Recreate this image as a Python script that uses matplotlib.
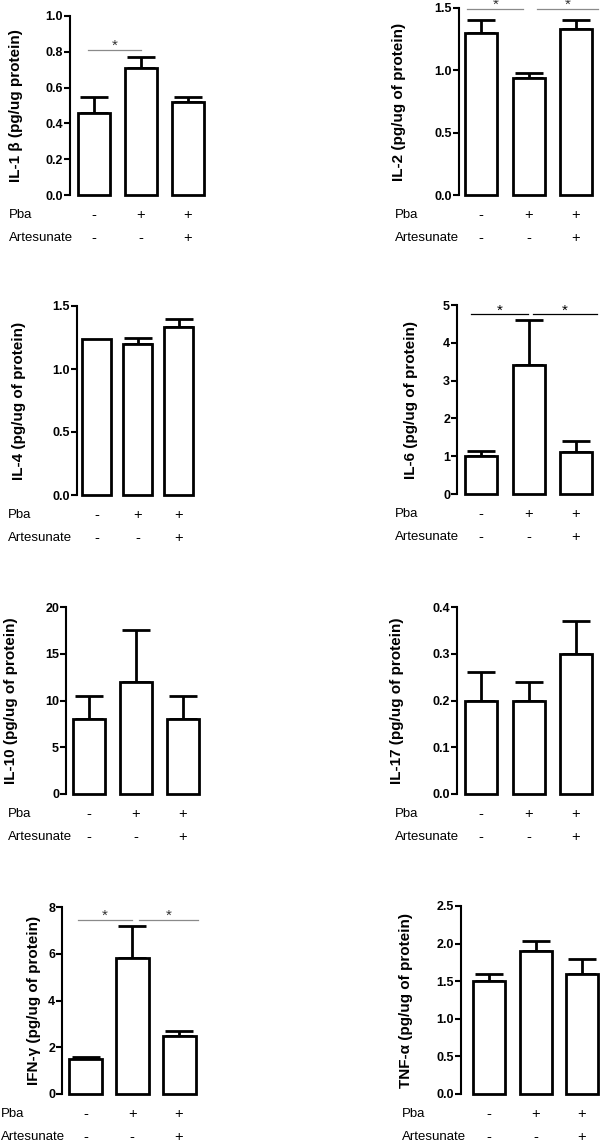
import matplotlib
matplotlib.use('Agg')
import matplotlib.pyplot as plt
from matplotlib.transforms import blended_transform_factory as btf
from matplotlib.ticker import MultipleLocator, FormatStrFormatter

plt.rcParams['font.family'] = ['Liberation Sans', 'DejaVu Sans']

# ---------------- data ----------------
pba_signs = ['-', '+', '+']
artesunate_signs = ['-', '-', '+']
row_names = ['Pba', 'Artesunate']

ylabels = ['IL-1 β (pg/ug protein)', 'IL-2 (pg/ug of protein)',
           'IL-4 (pg/ug of protein)', 'IL-6 (pg/ug of protein)',
           'IL-10 (pg/ug of protein)', 'IL-17 (pg/ug of protein)',
           'IFN-γ (pg/ug of protein)', 'TNF-α (pg/ug of protein)']

il1b_mean = [0.46, 0.71, 0.52];  il1b_sem = [0.09, 0.06, 0.03]
il2_mean = [1.30, 0.94, 1.33];   il2_sem = [0.10, 0.04, 0.07]
il4_mean = [1.24, 1.20, 1.33];   il4_sem = [0.0, 0.05, 0.07]
il6_mean = [1.0, 3.4, 1.1];      il6_sem = [0.15, 1.2, 0.3]
il10_mean = [8.0, 12.0, 8.0];    il10_sem = [2.5, 5.5, 2.5]
il17_mean = [0.20, 0.20, 0.30];  il17_sem = [0.06, 0.04, 0.07]
ifng_mean = [1.5, 5.8, 2.5];     ifng_sem = [0.07, 1.4, 0.2]
tnfa_mean = [1.5, 1.9, 1.6];     tnfa_sem = [0.10, 0.13, 0.20]

means = [il1b_mean, il2_mean, il4_mean, il6_mean, il10_mean, il17_mean, ifng_mean, tnfa_mean]
sems = [il1b_sem, il2_sem, il4_sem, il6_sem, il10_sem, il17_sem, ifng_sem, tnfa_sem]

y_max = [1.0, 1.5, 1.5, 5, 20, 0.4, 8, 2.5]
y_step = [0.2, 0.5, 0.5, 1, 5, 0.1, 2, 0.5]
y_decimals = [1, 1, 1, 0, 0, 1, 0, 1]

# significance brackets: (x start, x end, y level) in group units
sig_il1b = [(-0.13, 1.0, 0.81)]
sig_il2 = [(-0.29, 0.89, 1.49), (1.18, 2.46, 1.49)]
sig_il6 = [(-0.21, 0.99, 4.75), (1.09, 2.44, 4.75)]
sig_ifng = [(-0.16, 1.0, 7.45), (1.14, 2.4, 7.45)]
sig = [sig_il1b, sig_il2, [], sig_il6, [], [], sig_ifng, []]
sig_color = ['#8a8a8a', '#8a8a8a', 'k', 'k', 'k', 'k', '#8a8a8a', 'k']

# ---------------- layout (pixels) ----------------
W, H = 600, 1144
# spine_x, zero_y, top_y, first bar center, spacing, bar width, ylabel right edge, row label x
layout = [
    (70, 195, 16, 94, 47, 32, 23, 9),
    (459, 195, 8, 481, 47.5, 32, 406, 395),
    (77, 495, 306, 96.5, 41, 29, 26, 8),
    (457, 494, 305, 481, 47.5, 32, 418, 395),
    (66, 794, 607, 89, 47, 32, 18, 8),
    (457, 794, 607, 481, 47.5, 32, 404, 395),
    (62, 1094, 907, 85.5, 46.75, 33, 41, 1),
    (461, 1094, 906, 489, 46.5, 32, 413, 402),
]

fig = plt.figure(figsize=(W / 100, H / 100), dpi=100)

for i in range(8):
    spine, zero, top, c0, s, bw, lab_r, row_x = layout[i]
    right = c0 + 2.5 * s
    ax = fig.add_axes([spine / W, 1 - zero / H, (right - spine) / W, (zero - top) / H])
    x = [0, 1, 2]
    ax.bar(x, means[i], width=bw / s, color='white', edgecolor='black',
           linewidth=2.0, zorder=3, clip_on=False)
    xs = [xi for xi, e in zip(x, sems[i]) if e > 0]
    ms = [m for m, e in zip(means[i], sems[i]) if e > 0]
    es = [e for e in sems[i] if e > 0]
    ax.errorbar(xs, ms, yerr=[[0] * len(es), es], fmt='none', ecolor='black',
                elinewidth=2.0, capsize=10, capthick=2.0, zorder=2, clip_on=False)
    ax.set_xlim((spine - c0) / s, (right - c0) / s)
    ax.set_ylim(0, y_max[i])
    ax.yaxis.set_major_locator(MultipleLocator(y_step[i]))
    ax.yaxis.set_major_formatter(FormatStrFormatter('%.{}f'.format(y_decimals[i])))
    for sp in ['top', 'right', 'bottom']:
        ax.spines[sp].set_visible(False)
    ax.spines['left'].set_linewidth(1.5)
    ax.set_xticks([])
    ax.tick_params(axis='y', direction='out', length=4, width=1.5, pad=1,
                   labelsize=9)
    for t in ax.get_yticklabels():
        t.set_fontweight('bold')
    ax.patch.set_visible(False)

    ax.set_ylabel(ylabels[i], fontsize=11, fontweight='bold')
    ax.yaxis.set_label_coords(lab_r / W, 0.5, transform=btf(fig.transFigure, ax.transAxes))

    for (xa, xb, yl) in sig[i]:
        ax.plot([xa, xb], [yl, yl], color=sig_color[i], lw=0.9, clip_on=False, zorder=4)
        ax.text((xa + xb) / 2, yl, '*', ha='center', va='baseline', fontsize=11,
                color='#333333' if sig_color[i] != 'k' else 'k', clip_on=False)

    tr = btf(ax.transData, fig.transFigure)
    rows_y = [zero + 20, zero + 43]
    for ry, name, signs in zip(rows_y, row_names, [pba_signs, artesunate_signs]):
        fig.text(row_x / W, 1 - ry / H, name, ha='left', va='center', fontsize=9.5)
        for xi, sg in zip(x, signs):
            ax.text(xi, 1 - ry / H, sg, transform=tr, ha='center', va='center',
                    fontsize=10.5, clip_on=False)

fig.savefig('out.png', dpi=100)
